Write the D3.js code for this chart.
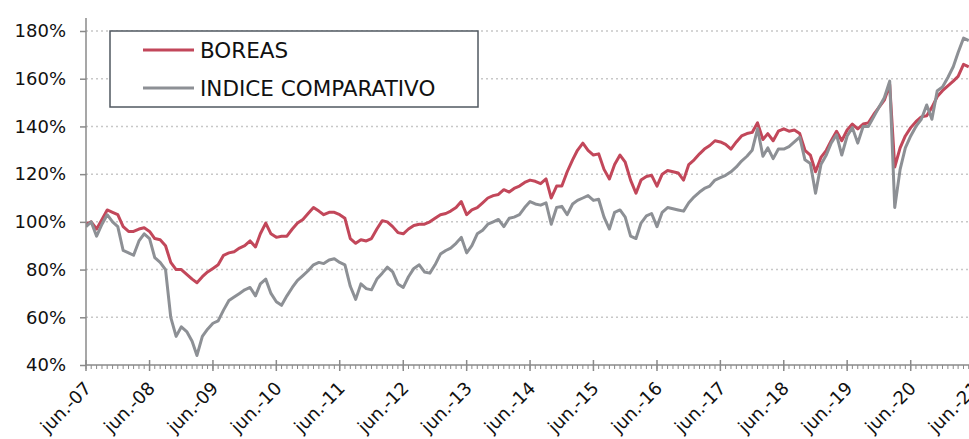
<!DOCTYPE html>
<html>
<head>
<meta charset="utf-8">
<script src="https://cdn.jsdelivr.net/npm/d3@7"></script>
<style>
  html, body { margin: 0; padding: 0; background: #fff; }
  svg { display: block; }
  text { font-family: "DejaVu Sans", Verdana, sans-serif; fill: #111; }
</style>
</head>
<body>
<svg id="chart" width="969" height="439"></svg>
<script>
// ---- DATA (monthly, starting June 2007) ----
const startMonth = "2007-06";
const seriesNames = ["BOREAS", "INDICE COMPARATIVO"];
const boreas = [
  99,100,97,101,105,104,103,98,96,96,97,97.5,
  96,93,92.5,90,83,80,80,78,76,74.5,77,79,
  80.5,82,86,87,87.5,89,90,92,89.5,95,99.5,95,
  93.5,94,94,97,99.5,101,103.5,106,104.5,103,104,104,
  103,101.5,93,91,92.5,92,93,97,100.5,100,98,95.5,
  95,97,98.5,99,99,100,101.5,103,103.5,104.5,106,108.5,
  103,105,106,108,110,111,111.5,113.5,112.5,114,115,116.5,
  117.5,117,116,118,110,115,115,121,126,130,133,130,
  128,128.5,122,118,124,128,125,117.5,112,117.5,119,119.5,
  115,120,121.5,121,120.5,117.5,124,126,128.5,130.5,132,134,
  133.5,132.5,130.5,133.5,136,137,137.5,141.5,134.5,137,134,138,
  139,138,138.5,137,130,128,121,127,130,134,138,134,
  138.5,141,139,141,141.5,145,148,151,157.5,123,131,136,
  139.5,142,144,144.5,148,152.5,155,157,159,161,166,165
];
const indice = [
  98,100,94,99,103,100,98,88,87,86,92,95,
  93,85,83,80,60,52,56,54,50,44,52,55,
  57.5,58.5,63,67,68.5,70,71.5,72.5,69,74,76,70,
  66.5,65,69,72.5,75.5,77.5,79.5,82,83,82.5,84,84.5,
  83,82,73,67.5,74,72,71.5,76,78.5,81,79,74,
  72.5,77,80.5,82,79,78.5,82,86.5,88,89,91,93.5,
  87,90,95,96.5,99,100,101,98,101.5,102,103,106,
  108.5,107.5,107,108,99,106,106.5,103,107.5,109,110,111,
  109,109.5,102,97,104,105,102,94,93,99.5,102.5,103.5,
  98,104,106,105.5,105,104.5,108,110.5,112.5,114,115,117.5,
  118.5,119.5,121,123,125.5,127.5,130,139,127.5,131,126.5,130.5,
  130.5,131.5,133.5,135.5,126,124.5,112,124,128,133,136.5,128,
  136,139.5,133,140,140,144,148,152,159,106,122,131,
  136,140,143,149,143,155,156.5,160.5,165,171,177,176
];
const yTickValues = [40,60,80,100,120,140,160,180];
const yTickLabels = ["40%","60%","80%","100%","120%","140%","160%","180%"];
const xTickLabels = ["jun.-07","jun.-08","jun.-09","jun.-10","jun.-11","jun.-12","jun.-13",
                     "jun.-14","jun.-15","jun.-16","jun.-17","jun.-18","jun.-19","jun.-20","jun.-21"];
const colors = ["#c2475a", "#8d9095"];

// ---- CHART ----
(function () {
const svg = d3.select("#chart");
const mLeft = 86, mBottom = 365, mTop = 31, mRight = 969;
const parse = d3.timeParse("%Y-%m");
const start = parse(startMonth);
const end = d3.timeYear.offset(start, xTickLabels.length - 1);
const x = d3.scaleTime().domain([start, end]).range([mLeft, 974.1]);
const y = d3.scaleLinear().domain([40, 180]).range([mBottom, mTop]);

const dates = boreas.map((_, i) => d3.timeMonth.offset(start, i));

// gridlines
svg.append("g").selectAll("line")
  .data(yTickValues.filter(v => v > 40))
  .join("line")
  .attr("x1", mLeft).attr("x2", mRight)
  .attr("y1", d => y(d)).attr("y2", d => y(d))
  .attr("stroke", "#c8c8c8").attr("stroke-width", 1.5)
  .attr("stroke-dasharray", "2,3");

// clip
svg.append("clipPath").attr("id", "clip")
  .append("rect").attr("x", mLeft).attr("y", 0).attr("width", mRight - mLeft).attr("height", mBottom);

const line = d3.line().x((d, i) => x(dates[i])).y(d => y(d));
const gLines = svg.append("g").attr("clip-path", "url(#clip)");
gLines.append("path").datum(boreas).attr("d", line)
  .attr("fill", "none").attr("stroke", colors[0]).attr("stroke-width", 3).attr("stroke-linejoin", "round");
gLines.append("path").datum(indice).attr("d", line)
  .attr("fill", "none").attr("stroke", colors[1]).attr("stroke-width", 3).attr("stroke-linejoin", "round");

// y axis
const yAxis = d3.axisLeft(y).tickValues(yTickValues)
  .tickFormat((d, i) => yTickLabels[i]).tickSize(6).tickPadding(14);
const gy = svg.append("g").attr("transform", `translate(${mLeft},0)`).call(yAxis);
gy.select(".domain").remove();
gy.append("line").attr("x1", 0).attr("x2", 0).attr("y1", 18).attr("y2", mBottom)
  .attr("stroke", "#8a8a8a").attr("stroke-width", 1.5);
gy.selectAll(".tick line").attr("stroke", "#8a8a8a").attr("stroke-width", 1.5);
gy.selectAll(".tick text").attr("font-size", 18).attr("fill", "#111")
  .attr("font-family", "'DejaVu Sans', Verdana, sans-serif");

// x axis
const gx = svg.append("g").attr("transform", `translate(0,${mBottom})`);
gx.append("line").attr("x1", mLeft).attr("x2", mRight).attr("y1", 0).attr("y2", 0)
  .attr("stroke", "#8a8a8a").attr("stroke-width", 1.5);
const minor = d3.timeMonth.range(start, d3.timeMonth.offset(end, 1));
gx.selectAll("line.minor").data(minor).join("line").attr("class", "minor")
  .attr("x1", d => x(d)).attr("x2", d => x(d)).attr("y1", 0).attr("y2", 4)
  .attr("stroke", "#8a8a8a").attr("stroke-width", 1);
const majors = xTickLabels.map((_, i) => d3.timeYear.offset(start, i));
gx.selectAll("line.major").data(majors).join("line").attr("class", "major")
  .attr("x1", d => x(d)).attr("x2", d => x(d)).attr("y1", -5).attr("y2", 6)
  .attr("stroke", "#8a8a8a").attr("stroke-width", 1.5);
gx.selectAll("text.xl").data(majors).join("text").attr("class", "xl")
  .attr("transform", d => `translate(${x(d) + 2},${20}) rotate(-45)`)
  .attr("text-anchor", "end").attr("font-size", 18).attr("dy", "0.35em")
  .text((d, i) => xTickLabels[i]);

// legend
const lg = svg.append("g");
lg.append("rect").attr("x", 110).attr("y", 31).attr("width", 368).attr("height", 76)
  .attr("fill", "#fff").attr("stroke", "#505860").attr("stroke-width", 1.5);
seriesNames.forEach((name, i) => {
  const ly = 50 + i * 38;
  lg.append("line").attr("x1", 143).attr("x2", 194).attr("y1", ly).attr("y2", ly)
    .attr("stroke", colors[i]).attr("stroke-width", 3);
  lg.append("text").attr("x", 200).attr("y", ly + 8).attr("font-size", 21.5).text(name);
});
})();
</script>
</body>
</html>
